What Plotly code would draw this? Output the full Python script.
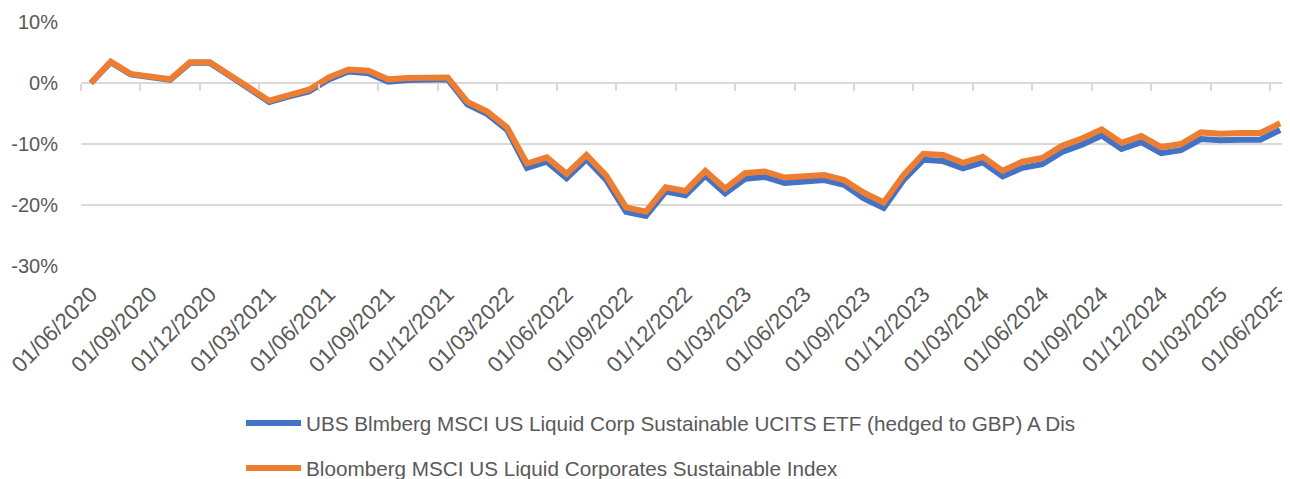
import pandas as pd
import plotly.graph_objects as go

dates = list(pd.date_range("2020-06-01", periods=61, freq="MS").strftime("%d/%m/%Y"))
tick_labels = dates[::3]

etf_name = "UBS Blmberg MSCI US Liquid Corp Sustainable UCITS ETF (hedged to GBP) A Dis"
idx_name = "Bloomberg MSCI US Liquid Corporates Sustainable Index"

etf = [0.0, 3.4, 1.4, 0.9, 0.5, 3.3, 3.3, 1.2, -1.0, -3.1,
       -2.2, -1.4, 0.6, 1.9, 1.6, 0.2, 0.5, 0.6, 0.6,
       -3.5, -5.1, -7.7, -13.9, -12.9, -15.6, -12.5, -15.9, -21.1, -21.8,
       -17.8, -18.4, -15.2, -18.1, -15.7, -15.4, -16.4, -16.1, -15.9, -16.7,
       -18.9, -20.5, -15.9, -12.6, -12.8, -14.0, -13.0, -15.3, -13.9, -13.3,
       -11.3, -10.1, -8.6, -10.8, -9.7, -11.5, -11.0, -9.2, -9.4, -9.3,
       -9.3, -7.7]
index = [0.0, 3.5, 1.5, 1.0, 0.6, 3.4, 3.4, 1.3, -0.9, -2.9,
         -2.0, -1.1, 0.9, 2.2, 2.0, 0.6, 0.8, 0.9, 0.9,
         -3.1, -4.7, -7.3, -13.2, -12.2, -14.9, -11.8, -15.2, -20.4, -21.1,
         -17.1, -17.7, -14.4, -17.3, -14.8, -14.5, -15.5, -15.2, -15.1, -15.9,
         -18.0, -19.6, -15.1, -11.6, -11.8, -13.1, -12.1, -14.4, -12.9, -12.3,
         -10.3, -9.1, -7.6, -9.8, -8.7, -10.5, -10.0, -8.1, -8.3, -8.2,
         -8.2, -6.6]
y_ticks = [-30, -20, -10, 0, 10]
y_tick_text = ["-30%", "-20%", "-10%", "0%", "10%"]

BLUE = "#4472C4"
ORANGE = "#ED7D31"
TXT = "#595959"
GRID = "#D9D9D9"
FONT = "Liberation Sans"

fig = go.Figure()
fig.add_trace(go.Scatter(x=dates, y=etf, mode="lines", name=etf_name,
                         line=dict(color=BLUE, width=6), legend="legend"))
fig.add_trace(go.Scatter(x=dates, y=index, mode="lines", name=idx_name,
                         line=dict(color=ORANGE, width=6), legend="legend2"))
# helper invisible trace for tick-mark axis (category boundaries)
n = len(dates)
fig.add_trace(go.Scatter(x=[-0.5, n - 0.5], y=[0, 0], xaxis="x2", mode="lines",
                         line=dict(width=0), showlegend=False, hoverinfo="skip"))

y0_frac = (0 - y_ticks[0]) / (y_ticks[-1] - y_ticks[0])
leg_x = (241 - 81) / 1209

fig.update_layout(
    width=1282, height=471,
    margin=dict(l=73, r=0, t=14, b=213, autoexpand=False),
    paper_bgcolor="white", plot_bgcolor="white",
    font=dict(family=FONT, size=20, color=TXT),
    xaxis=dict(type="category", categoryorder="array", categoryarray=dates,
               range=[-0.5, n - 0.5], tickmode="array", tickvals=tick_labels,
               ticktext=tick_labels, tickangle=-45, showgrid=False, showline=False,
               zeroline=False, ticks="", ticklabelstandoff=10, automargin=False,
               tickfont=dict(family=FONT, size=22, color=TXT)),
    xaxis2=dict(overlaying="x", anchor="free", position=y0_frac, side="bottom",
                range=[-0.5, n - 0.5], tickmode="array",
                tickvals=[i - 0.5 for i in range(0, n, 3)], automargin=False,
                ticks="outside", ticklen=7, tickwidth=1.5, tickcolor=GRID,
                showticklabels=False, showgrid=False, showline=False, zeroline=False),
    yaxis=dict(range=[y_ticks[0], y_ticks[-1]], tickmode="array", tickvals=y_ticks,
               ticktext=y_tick_text, showgrid=True, gridcolor=GRID, gridwidth=1.5,
               zeroline=False, showline=False, ticks="", ticklabelstandoff=22,
               automargin=False, tickfont=dict(family=FONT, size=20, color=TXT)),
    legend=dict(x=leg_x, xanchor="left", y=(266 - 423) / 244, yanchor="middle",
                bgcolor="rgba(0,0,0,0)", font=dict(family=FONT, size=20.7, color=TXT),
                itemwidth=55),
    legend2=dict(x=leg_x, xanchor="left", y=(266 - 468) / 244, yanchor="middle",
                 bgcolor="rgba(0,0,0,0)", font=dict(family=FONT, size=20.7, color=TXT),
                 itemwidth=55),
    showlegend=True,
)

fig.write_html("out.html")
